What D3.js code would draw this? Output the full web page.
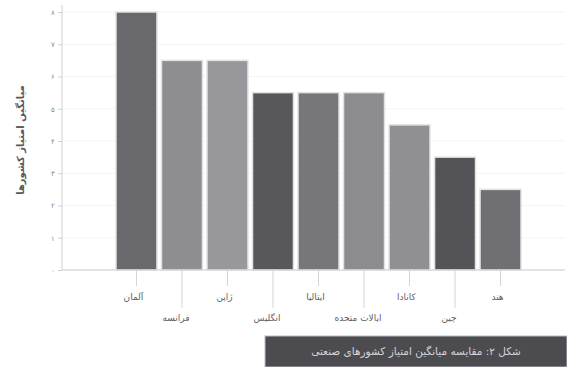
<!DOCTYPE html>
<html lang="fa">
<head>
  <meta charset="UTF-8">
  <title>نمودار میله‌ای</title>
  <script src="https://d3js.org/d3.v7.min.js"></script>
  <style>
    body { margin: 0; background: #fff; }
    svg { display: block; font-family: "DejaVu Sans", sans-serif; }
    .axis path, .axis line { stroke: #cfcfd2; }
    .axis text { fill: #8a8a8e; font-size: 7px; }
  </style>
</head>
<body>
<svg width="567" height="367"></svg>
<script>
  // داده‌ها
  const categories = ["آلمان", "فرانسه", "ژاپن", "انگلیس", "ایتالیا", "ایالات متحده", "کانادا", "چین", "هند"];
  const values = [8, 6.5, 6.5, 5.5, 5.5, 5.5, 4.5, 3.5, 2.5];
  const barColors = ["#69696d", "#8e8e92", "#98989c", "#58585c", "#77777b", "#8c8c90", "#909094", "#545458", "#707074"];
  const yTicks = [0, 1, 2, 3, 4, 5, 6, 7, 8];
  const yTitle = "میانگین امتیاز کشورها";
  const caption = "شکل ۲: مقایسه میانگین امتیاز کشورهای صنعتی";

  const svg = d3.select("svg");
  const m = { left: 62, top: 12, bottom: 270 };

  const x = d3.scaleBand()
    .domain(categories)
    .range([116, 521])
    .paddingInner(0.1)
    .paddingOuter(0);

  const y = d3.scaleLinear().domain([0, 8]).range([m.bottom, m.top]);

  // خطوط راهنما
  svg.append("g")
    .selectAll("line")
    .data(yTicks)
    .join("line")
    .attr("x1", m.left).attr("x2", 565)
    .attr("y1", d => y(d)).attr("y2", d => y(d))
    .attr("stroke", "#f4f4f5");

  // میله‌ها
  svg.append("g")
    .selectAll("rect")
    .data(values)
    .join("rect")
    .attr("x", (d, i) => x(categories[i]))
    .attr("y", d => y(d))
    .attr("width", x.bandwidth())
    .attr("height", d => m.bottom - y(d))
    .attr("fill", (d, i) => barColors[i])
    .attr("stroke", "#e2e2e4")
    .attr("stroke-width", 1.5);

  // محور y
  const yAxis = svg.append("g")
    .attr("class", "axis")
    .attr("transform", `translate(${m.left},0)`)
    .call(d3.axisLeft(y).tickValues(yTicks).tickSize(4)
      .tickFormat(d => d.toLocaleString("fa-IR")));
  yAxis.select(".domain").attr("d", `M0,5V${m.bottom}`);

  // محور x
  svg.append("line")
    .attr("x1", m.left).attr("x2", 565)
    .attr("y1", m.bottom).attr("y2", m.bottom)
    .attr("stroke", "#cfcfd2");

  const xg = svg.append("g").attr("class", "xlab");
  categories.forEach((c, i) => {
    const cx = x(c) + x.bandwidth() / 2;
    const low = i % 2 === 1;
    xg.append("line")
      .attr("x1", cx).attr("x2", cx)
      .attr("y1", m.bottom).attr("y2", low ? 308 : 286)
      .attr("stroke", "#d4d4d7");
    xg.append("text")
      .attr("x", cx + (low ? -6 : -3))
      .attr("y", low ? 321 : 300)
      .attr("text-anchor", "middle")
      .attr("font-size", 9)
      .attr("fill", "#5e5e62")
      .text(c);
  });

  // عنوان محور y
  svg.append("text")
    .attr("transform", "translate(24,140) rotate(-90)")
    .attr("text-anchor", "middle")
    .attr("font-size", 10)
    .attr("font-weight", "bold")
    .attr("fill", "#58585c")
    .text(yTitle);

  // زیرنویس
  svg.append("rect")
    .attr("x", 265).attr("y", 336)
    .attr("width", 302).attr("height", 31)
    .attr("fill", "#4c4c50")
    .attr("stroke", "#bdbdc0");
  svg.append("text")
    .attr("x", 416).attr("y", 355)
    .attr("text-anchor", "middle")
    .attr("font-size", 10.5)
    .attr("fill", "#d4d4d7")
    .text(caption);
</script>
</body>
</html>
